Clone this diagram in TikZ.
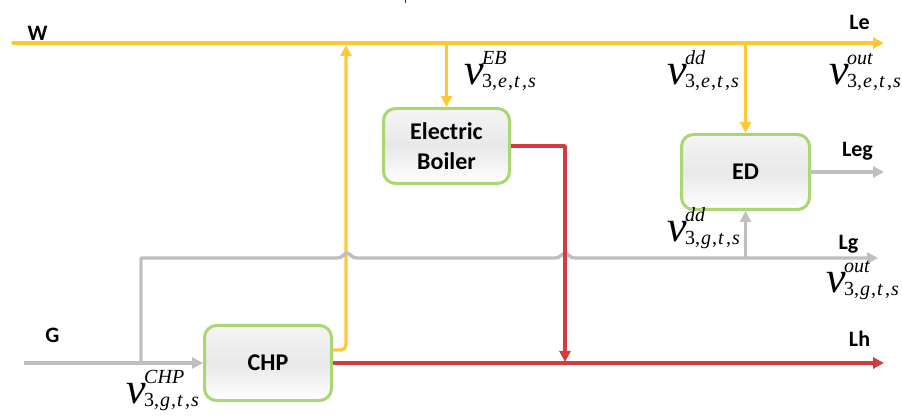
\documentclass[tikz,border=0pt]{standalone}
\usepackage{fontspec}
\setmainfont{Carlito}
\newfontfamily\tnrfont{Liberation Serif}
\usetikzlibrary{arrows.meta}
\definecolor{yel}{HTML}{FFC935}
\definecolor{gry}{HTML}{BFBFBF}
\definecolor{rd}{HTML}{D43B3F}
\definecolor{grn}{HTML}{A8D773}
\newcommand{\vlab}[2]{{\tnrfont\fontsize{44}{44}\selectfont\textit{v}\kern-1.5pt\fontsize{20}{20}\selectfont\rlap{\raisebox{20pt}{\textit{#1}}}\raisebox{-3pt}{#2}}}
\newcommand{\subs}[1]{3,\kern1pt\textit{#1}\kern1pt,\kern1pt\textit{t}\kern2pt,\kern1pt\textit{s}}
\begin{document}
\begin{tikzpicture}[x=1pt,y=-1pt,
  flow/.style={line width=3.4pt, line join=round},
  yflow/.style={flow, draw=yel},
  gflow/.style={flow, draw=gry},
  rflow/.style={flow, draw=rd},
  tip/.style={-{Triangle[length=11pt,width=11pt]}},
  unit/.style={draw=grn, line width=3pt, rounded corners=12pt, top color=black!4, bottom color=white, middle color=black!9, minimum width=126pt, minimum height=75pt, font=\fontsize{24}{30}\selectfont\bfseries, align=center, inner sep=0pt},
  lab/.style={font=\fontsize{22}{24}\selectfont\bfseries, inner sep=0pt, anchor=base},
  vl/.style={inner sep=0pt, anchor=base west}]
\useasboundingbox (0,0) rectangle (902,419);

% units
\node[unit] (eb) at (446.5,146) {Electric\\Boiler};
\node[unit, minimum width=128pt] (ed) at (745.5,172) {ED};
\node[unit, minimum width=127pt] (chp) at (268,363) {CHP};

% coordinates
\coordinate (w0) at (13,43);
\coordinate (le) at (884,43);
\coordinate (up) at (346,45);
\coordinate (g0) at (24,363);
\coordinate (br) at (141,363);
\coordinate (jA) at (347,258);
\coordinate (jB) at (565,258);
\coordinate (lg) at (878,258);
\coordinate (leg) at (884,172);
\coordinate (lh) at (884,363);
\coordinate (rj) at (565,362);

% electricity (yellow)
\draw[yflow, line cap=round, tip] (w0) -- (le);
\draw[yflow, tip] (eb.north |- w0) -- (eb.north);
\draw[yflow, tip] (ed.north |- w0) -- (ed.north);
\draw[yflow, tip, rounded corners=5pt] ([yshift=13pt]chp.east) -| (up);

% gas (gray)
\draw[gflow, tip] (g0) -- (chp.west);
\draw[gflow, tip] (br) |- ([xshift=-10pt]jA)
  .. controls +(6,0) and +(-3,0) .. ([yshift=5pt]jA)
  .. controls +(3,0) and +(-6,0) .. ([xshift=10pt]jA)
  -- ([xshift=-10pt]jB)
  .. controls +(6,0) and +(-3,0) .. ([yshift=5pt]jB)
  .. controls +(3,0) and +(-6,0) .. ([xshift=10pt]jB)
  -- (lg);
\draw[gflow, tip] (ed.south |- lg) -- (ed.south);
\draw[gflow, tip] (ed.east) -- (leg);

% heat (red)
\draw[rflow, tip] (chp.east) -- (lh);
\draw[rflow, tip] (eb.east) -| (rj);

% labels
\node[lab] (W) at (37.5,40.5) {W};
\node[lab] (Le) at (859.5,30) {Le};
\node[lab] (Leg) at (857.5,157) {Leg};
\node[lab] (Lg) at (848.5,250) {Lg};
\node[lab] (Lh) at (859.5,347) {Lh};
\node[lab] (G) at (52.5,343) {G};

% variables
\node[vl] (v1) at (464,85) {\vlab{EB}{\subs{e}}};
\node[vl] (v2) at (667,85) {\vlab{dd}{\subs{e}}};
\node[vl] (v3) at (829,85) {\vlab{out}{\subs{e}}};
\node[vl] (v4) at (667,242) {\vlab{dd}{\subs{g}}};
\node[vl] (v5) at (826,293) {\vlab{out}{\subs{g}}};
\node[vl] (v6) at (126,403) {\vlab{CHP}{\subs{g}}};

% cut-off mark at top
\fill[black!80] (404.5,0) rectangle (406,3);
\end{tikzpicture}
\end{document}
